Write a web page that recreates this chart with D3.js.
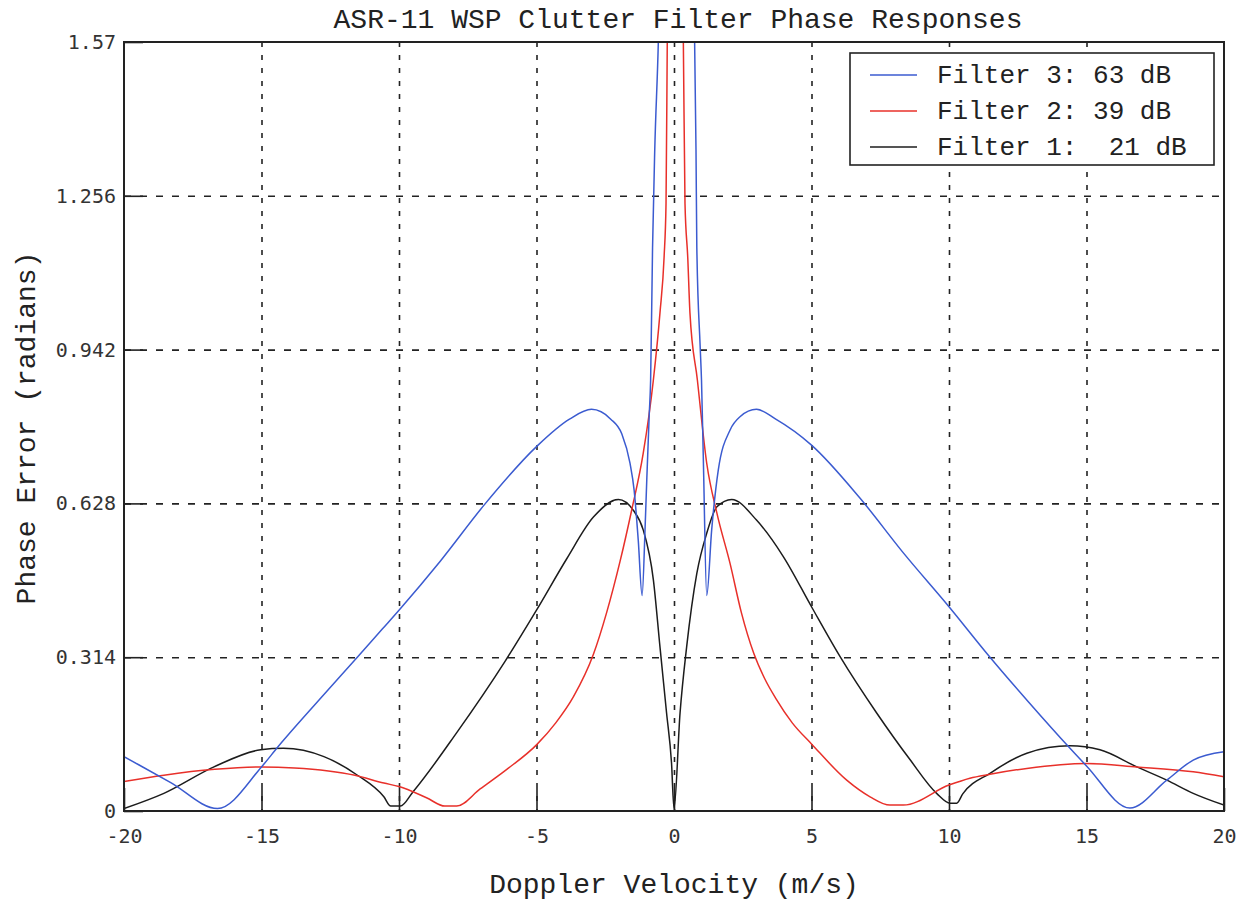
<html>
    <head>
        <script src="https://d3js.org/d3.v7.min.js"></script>
        <style>
            body { margin: 0; background: white; }
            text { white-space: pre; }
        </style>
    </head>
    <body>
        <svg id="chart" width="1246" height="901"></svg>
        <script>
            // tick labels
            const xTicks = [-20, -15, -10, -5, 0, 5, 10, 15, 20]
            const xTickLabels = ['-20', '-15', '-10', '-5', '0', '5', '10', '15', '20']
            const yTicks = [0, 0.314, 0.628, 0.942, 1.256, 1.57]
            const yTickLabels = ['0', '0.314', '0.628', '0.942', '1.256', '1.57']

            // Filter 3 (blue)
            const f3x = [-20, -18.3, -16.6, -15, -14.4, -12.9, -11.5, -10.6, -10, -8.5, -6.9, -5, -3.8, -3.0, -2.3, -1.9, -1.6, -1.45, -1.3, -1.16,
                         -1.05, -0.99, -0.9, -0.85, -0.78, -0.7, -0.57, -0.45,
                         0.45, 0.75, 0.8, 0.83, 0.95, 1.0, 1.07, 1.19, 1.37, 1.61, 2.04, 2.4, 3.0, 3.7, 5, 6.76, 8.34, 10, 11.4, 12.9, 14.4, 15, 16.58, 17.92, 18.88, 20]
            const f3y = [0.111, 0.058, 0.005, 0.09, 0.131, 0.227, 0.315, 0.372, 0.41, 0.51, 0.625, 0.744, 0.8, 0.82, 0.8, 0.77, 0.71, 0.655, 0.553, 0.44,
                         0.58, 0.676, 0.81, 0.88, 1.15, 1.35, 1.57, 1.9,
                         1.9, 1.57, 1.35, 1.15, 0.95, 0.88, 0.71, 0.44, 0.574, 0.696, 0.778, 0.805, 0.82, 0.8, 0.747, 0.639, 0.527, 0.417, 0.32, 0.222, 0.128, 0.092, 0.006, 0.063, 0.104, 0.121]

            // Filter 2 (red)
            const f2x = [-20, -18.55, -16.7, -15, -13.8, -11.6, -10.55, -10, -9, -8.33, -7.9, -7.05, -6.08, -5, -4.3, -3.66, -2.93, -2.45, -1.96, -1.54, -1.12,
                         -0.75, -0.51, -0.36, -0.29, -0.245, -0.2,
                         0.2, 0.34, 0.4, 0.5, 0.58, 0.85, 1.19, 1.56, 2.04, 2.45, 2.9, 3.3, 3.7, 4.3, 5, 6.28, 7.13, 7.85, 8.34, 10, 10.76, 11.49, 12.83, 15, 16.83, 18.88, 20]
            const f2y = [0.06, 0.073, 0.085, 0.09, 0.088, 0.073, 0.057, 0.05, 0.027, 0.01, 0.01, 0.045, 0.085, 0.135, 0.18, 0.233, 0.32, 0.405, 0.51, 0.614, 0.73,
                         0.88, 1.017, 1.131, 1.24, 1.57, 1.9,
                         1.9, 1.57, 1.24, 1.13, 1.017, 0.88, 0.71, 0.608, 0.505, 0.405, 0.322, 0.27, 0.23, 0.18, 0.137, 0.063, 0.029, 0.012, 0.012, 0.053, 0.067, 0.075, 0.087, 0.097, 0.09, 0.08, 0.07]

            // Filter 1 (black)
            const f1x = [-20, -18.55, -16.73, -15.03, -14.2, -12.73, -11.51, -10.55, -10.3, -9.95, -9.48, -7.9, -6.15, -5, -3.9, -2.93, -2.02, -1.48, -1.12,
                         -0.75, -0.51, -0.27, -0.09, 0,
                         0.22, 0.46, 0.83, 1.19, 1.56, 2.1, 3, 3.98, 5, 6.04, 7.37, 8.58, 9.55, 10.04, 10.28, 10.5, 11.49, 12.83, 14.4, 15.49, 16.83, 17.92, 18.88, 20]
            const f1y = [0.005, 0.036, 0.09, 0.125, 0.128, 0.111, 0.073, 0.029, 0.01, 0.01, 0.04, 0.16, 0.305, 0.41, 0.515, 0.6, 0.636, 0.614, 0.574,
                         0.472, 0.335, 0.2, 0.098, 0.005,
                         0.2, 0.335, 0.485, 0.567, 0.621, 0.636, 0.594, 0.519, 0.417, 0.315, 0.2, 0.105, 0.036, 0.016, 0.016, 0.035, 0.077, 0.118, 0.133, 0.125, 0.09, 0.063, 0.036, 0.012]

            const names = ['Filter 3: 63 dB', 'Filter 2: 39 dB', 'Filter 1:  21 dB']
            const colors = ['#3b5bd0', '#e8302a', '#1c1c1c']

            const series = [
                {name: names[0], color: colors[0], pts: f3x.map((x, i) => [x, f3y[i]])},
                {name: names[1], color: colors[1], pts: f2x.map((x, i) => [x, f2y[i]])},
                {name: names[2], color: colors[2], pts: f1x.map((x, i) => [x, f1y[i]])}
            ]

            const svg = d3.select('svg#chart')
            const margins = {top: 42, left: 124, bottom: 90, right: 22}
            const width = +svg.attr('width')
            const height = +svg.attr('height')
            const chartWidth = width - margins.left - margins.right
            const chartHeight = height - margins.top - margins.bottom

            const xScale = d3.scaleLinear().domain([-20, 20]).range([0, chartWidth])
            const yScale = d3.scaleLinear().domain([0, 1.57]).range([chartHeight, 0])

            const chart = svg.append('g')
                .attr('transform', `translate(${margins.left}, ${margins.top})`)

            svg.append('clipPath').attr('id', 'plotclip')
                .append('rect').attr('width', chartWidth).attr('height', chartHeight)

            // gridlines
            const xGrid = chart.append('g')
                .attr('class', 'x grid')
                .call(d3.axisBottom(xScale).tickValues(xTicks.slice(1, -1)).tickSize(chartHeight).tickFormat(''))
            xGrid.select('.domain').remove()
            xGrid.selectAll('line').attr('stroke', '#222').attr('stroke-width', 1.6).attr('stroke-dasharray', '5,8')

            const yGrid = chart.append('g')
                .attr('class', 'y grid')
                .call(d3.axisLeft(yScale).tickValues(yTicks.slice(1, -1)).tickSize(-chartWidth).tickFormat(''))
            yGrid.select('.domain').remove()
            yGrid.selectAll('line').attr('stroke', '#222').attr('stroke-width', 1.6).attr('stroke-dasharray', '7,9')

            // axes with inward ticks
            const xAxis = chart.append('g')
                .attr('transform', `translate(0, ${chartHeight})`)
                .call(d3.axisBottom(xScale).tickValues(xTicks).tickSizeInner(-23).tickSizeOuter(0).tickPadding(18)
                    .tickFormat((d, i) => xTickLabels[i]))
            xAxis.select('.domain').remove()
            xAxis.selectAll('line').attr('stroke', '#222').attr('stroke-width', 1.6)
            xAxis.selectAll('text').attr('font-family', 'DejaVu Sans Mono').attr('font-size', 20).attr('fill', '#333')

            const yAxis = chart.append('g')
                .call(d3.axisLeft(yScale).tickValues(yTicks).tickSizeInner(-19).tickSizeOuter(0).tickPadding(8)
                    .tickFormat((d, i) => yTickLabels[i]))
            yAxis.select('.domain').remove()
            yAxis.selectAll('line').attr('stroke', '#222').attr('stroke-width', 1.6)
            yAxis.selectAll('text').attr('font-family', 'DejaVu Sans Mono').attr('font-size', 20).attr('fill', '#333')

            // curves
            const line = d3.line()
                .x(d => xScale(d[0]))
                .y(d => yScale(d[1]))
                .curve(d3.curveMonotoneX)

            chart.append('g').attr('clip-path', 'url(#plotclip)')
                .selectAll('path').data(series.slice().reverse())
                .join('path')
                .attr('d', d => line(d.pts))
                .attr('fill', 'none')
                .attr('stroke', d => d.color)
                .attr('stroke-width', 1.5)

            // frame
            chart.append('rect')
                .attr('width', chartWidth).attr('height', chartHeight)
                .attr('fill', 'none').attr('stroke', '#222').attr('stroke-width', 2)

            // legend
            const legend = chart.append('g').attr('transform', `translate(${850 - margins.left}, ${53 - margins.top})`)
            legend.append('rect')
                .attr('width', 364).attr('height', 112)
                .attr('fill', 'white').attr('stroke', '#222').attr('stroke-width', 1.6)
            const rows = legend.selectAll('g.row').data(series).join('g')
                .attr('class', 'row')
                .attr('transform', (d, i) => `translate(0, ${22 + i * 36})`)
            rows.append('line')
                .attr('x1', 20).attr('x2', 67)
                .attr('stroke', d => d.color).attr('stroke-width', 1.6)
            rows.append('text')
                .attr('x', 87).attr('y', 8)
                .attr('font-family', 'Liberation Mono').attr('font-size', 26).attr('fill', '#222')
                .text(d => d.name)

            // title and axis labels
            svg.append('text')
                .attr('x', margins.left + chartWidth / 2 + 4).attr('y', 28)
                .attr('text-anchor', 'middle')
                .attr('font-family', 'Liberation Mono').attr('font-size', 28).attr('fill', '#222')
                .text('ASR-11 WSP Clutter Filter Phase Responses')

            svg.append('text')
                .attr('x', margins.left + chartWidth / 2).attr('y', 893)
                .attr('text-anchor', 'middle')
                .attr('font-family', 'Liberation Mono').attr('font-size', 28).attr('fill', '#222')
                .text('Doppler Velocity (m/s)')

            svg.append('text')
                .attr('transform', 'translate(35, 428) rotate(-90)')
                .attr('text-anchor', 'middle')
                .attr('font-family', 'Liberation Mono').attr('font-size', 28).attr('fill', '#222')
                .text('Phase Error (radians)')
        </script>
    </body>
</html>
